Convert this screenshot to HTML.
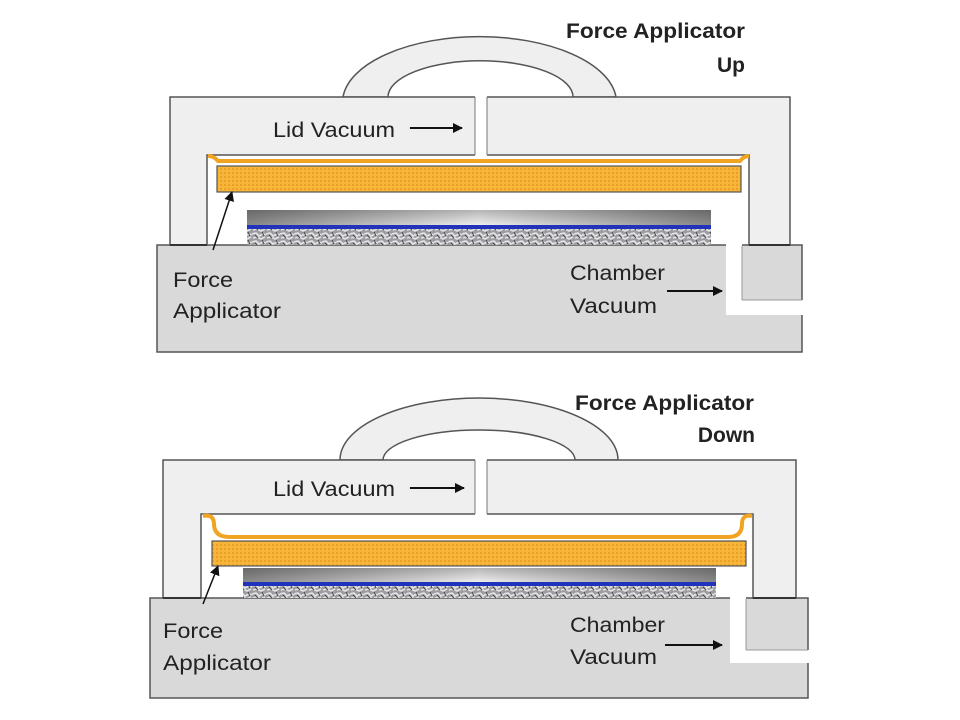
<!DOCTYPE html>
<html><head><meta charset="utf-8"><style>
html,body{margin:0;padding:0;background:#fff}
svg{display:block}
text{font-family:"Liberation Sans",sans-serif;fill:#222}
</style></head><body>
<svg width="960" height="720" viewBox="0 0 960 720" xmlns="http://www.w3.org/2000/svg">
<defs>
<linearGradient id="wg" x1="0" x2="1" y1="0" y2="0">
<stop offset="0" stop-color="#8a8a8a"/><stop offset="0.5" stop-color="#f2f2f2"/><stop offset="1" stop-color="#8a8a8a"/>
</linearGradient>
<linearGradient id="wv" x1="0" x2="0" y1="0" y2="1">
<stop offset="0" stop-color="#000" stop-opacity="0.25"/><stop offset="1" stop-color="#000" stop-opacity="0"/>
</linearGradient>
<pattern id="gr" width="14" height="8" patternUnits="userSpaceOnUse">
<rect width="14" height="8" fill="#9c9ca2"/>
<path d="M0 2 L4 1 L7 4 L11 2 L14 3 M1 6 L5 5 L9 7 L13 5" stroke="#e4e4e4" stroke-width="1.6" fill="none"/>
<path d="M3 3 L6 6 M10 0 L12 4" stroke="#444" stroke-width="1" fill="none"/>
</pattern>
<pattern id="or" width="4" height="4" patternUnits="userSpaceOnUse">
<rect width="4" height="4" fill="#f7b53a"/><rect width="2" height="2" fill="#e9a025"/>
</pattern>
<marker id="ah" markerWidth="10" markerHeight="10" refX="9" refY="5" orient="auto" markerUnits="userSpaceOnUse">
<path d="M0 0 L10 5 L0 10 Z" fill="#111"/>
</marker>
</defs>

<!-- ============ TOP ============ -->
<g stroke="#555" stroke-width="1.5">
<path d="M343 97 A137 66 0 0 1 616 97 L573 97 A92 36 0 0 0 388 97 Z" fill="#efefef"/>
<rect x="157" y="245" width="645" height="107" fill="#d9d9d9"/>
<path d="M170 97 H790 V245 H749 V155 H207 V245 H170 Z" fill="#efefef"/>
</g>
<rect x="475" y="95" width="12" height="61" fill="#fff"/>
<line x1="475" y1="97" x2="475" y2="155" stroke="#777" stroke-width="1"/>
<line x1="487" y1="97" x2="487" y2="155" stroke="#777" stroke-width="1"/>
<path d="M726 244 H742 V300 H804 V315 H726 Z" fill="#fff"/>
<line x1="742" y1="246" x2="742" y2="300" stroke="#999" stroke-width="1"/>
<line x1="742" y1="300" x2="802" y2="300" stroke="#999" stroke-width="1"/>
<line x1="749" y1="245" x2="790" y2="245" stroke="#333" stroke-width="2"/>
<line x1="170" y1="245" x2="207" y2="245" stroke="#333" stroke-width="2"/>
<path d="M208 156 Q214 156 218 161 H740 Q744 156 749 156" stroke="#f0a422" stroke-width="4" fill="none"/>
<rect x="217" y="166" width="524" height="26" fill="url(#or)" stroke="#555" stroke-width="1.2"/>
<rect x="247" y="210" width="464" height="16" fill="url(#wg)"/>
<rect x="247" y="210" width="464" height="16" fill="url(#wv)"/>
<rect x="247" y="225" width="464" height="4" fill="#2233bb"/>
<rect x="247" y="229" width="464" height="16" fill="url(#gr)"/>
<text x="566" y="38" font-size="21" font-weight="bold" textLength="179" lengthAdjust="spacingAndGlyphs">Force Applicator</text>
<text x="745" y="72" font-size="21" font-weight="bold" text-anchor="end">Up</text>
<text x="273" y="137" font-size="21" textLength="122" lengthAdjust="spacingAndGlyphs">Lid Vacuum</text>
<line x1="410" y1="128" x2="462" y2="128" stroke="#111" stroke-width="2" marker-end="url(#ah)"/>
<text x="173" y="287" font-size="21" textLength="60" lengthAdjust="spacingAndGlyphs">Force</text>
<text x="173" y="318" font-size="21" textLength="108" lengthAdjust="spacingAndGlyphs">Applicator</text>
<line x1="213" y1="250" x2="232" y2="192" stroke="#111" stroke-width="1.5" marker-end="url(#ah)"/>
<text x="570" y="280" font-size="21" textLength="95" lengthAdjust="spacingAndGlyphs">Chamber</text>
<text x="570" y="313" font-size="21" textLength="87" lengthAdjust="spacingAndGlyphs">Vacuum</text>
<line x1="667" y1="291" x2="722" y2="291" stroke="#111" stroke-width="2" marker-end="url(#ah)"/>

<!-- ============ BOTTOM ============ -->
<g stroke="#555" stroke-width="1.5">
<path d="M340 460 A139 62 0 0 1 618 460 L575 460 A96 30 0 0 0 383 460 Z" fill="#efefef"/>
<rect x="150" y="598" width="658" height="100" fill="#d9d9d9"/>
<path d="M163 460 H796 V598 H753 V514 H201 V598 H163 Z" fill="#efefef"/>
</g>
<rect x="475" y="458" width="12" height="57" fill="#fff"/>
<line x1="475" y1="460" x2="475" y2="514" stroke="#777" stroke-width="1"/>
<line x1="487" y1="460" x2="487" y2="514" stroke="#777" stroke-width="1"/>
<path d="M730 597 H746 V650 H810 V663 H730 Z" fill="#fff"/>
<line x1="746" y1="599" x2="746" y2="650" stroke="#999" stroke-width="1"/>
<line x1="746" y1="650" x2="808" y2="650" stroke="#999" stroke-width="1"/>
<line x1="753" y1="598" x2="796" y2="598" stroke="#333" stroke-width="2"/>
<line x1="163" y1="598" x2="201" y2="598" stroke="#333" stroke-width="2"/>
<path d="M203 516 Q214 514 214 524 Q214 537 230 537 H728 Q742 537 742 524 Q742 514 752 516" stroke="#f0a422" stroke-width="4" fill="none"/>
<rect x="212" y="541" width="534" height="25" fill="url(#or)" stroke="#555" stroke-width="1.2"/>
<rect x="243" y="568" width="473" height="15" fill="url(#wg)"/>
<rect x="243" y="568" width="473" height="15" fill="url(#wv)"/>
<rect x="243" y="582" width="473" height="4" fill="#2233bb"/>
<rect x="243" y="586" width="473" height="12" fill="url(#gr)"/>
<text x="575" y="410" font-size="21" font-weight="bold" textLength="179" lengthAdjust="spacingAndGlyphs">Force Applicator</text>
<text x="755" y="442" font-size="21" font-weight="bold" text-anchor="end">Down</text>
<text x="273" y="496" font-size="21" textLength="122" lengthAdjust="spacingAndGlyphs">Lid Vacuum</text>
<line x1="410" y1="488" x2="464" y2="488" stroke="#111" stroke-width="2" marker-end="url(#ah)"/>
<text x="163" y="638" font-size="21" textLength="60" lengthAdjust="spacingAndGlyphs">Force</text>
<text x="163" y="670" font-size="21" textLength="108" lengthAdjust="spacingAndGlyphs">Applicator</text>
<line x1="203" y1="604" x2="218" y2="566" stroke="#111" stroke-width="1.5" marker-end="url(#ah)"/>
<text x="570" y="632" font-size="21" textLength="95" lengthAdjust="spacingAndGlyphs">Chamber</text>
<text x="570" y="664" font-size="21" textLength="87" lengthAdjust="spacingAndGlyphs">Vacuum</text>
<line x1="665" y1="645" x2="722" y2="645" stroke="#111" stroke-width="2" marker-end="url(#ah)"/>
</svg>
</body></html>
